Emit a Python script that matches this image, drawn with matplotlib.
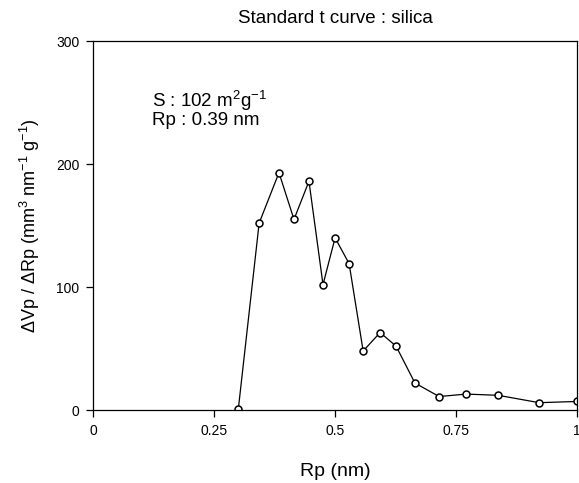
import matplotlib
matplotlib.use("Agg")
import matplotlib.pyplot as plt

plt.rcParams['font.family'] = ['Liberation Sans', 'DejaVu Sans']
plt.rcParams['mathtext.fontset'] = 'custom'
plt.rcParams['mathtext.rm'] = 'Liberation Sans'
plt.rcParams['mathtext.it'] = 'Liberation Sans:italic'
plt.rcParams['mathtext.default'] = 'regular'

# ================== DATA ==================
rp = [0.30, 0.343, 0.384, 0.415, 0.446, 0.475, 0.50, 0.529, 0.558,
      0.593, 0.626, 0.665, 0.715, 0.771, 0.837, 0.922, 1.0]
dvp = [1, 152, 193, 155, 186, 102, 140, 119, 48,
       63, 52, 22, 11, 13, 12, 6, 7]

x_ticks = [0, 0.25, 0.5, 0.75, 1]
x_tick_labels = ['0', '0.25', '0.5', '0.75', '1']
y_ticks = [0, 100, 200, 300]

fig = plt.figure(figsize=(5.79, 4.83), dpi=100)
ax = fig.add_axes([0.161, 0.151, 0.8355, 0.764])

ax.plot(rp, dvp, color='black', linewidth=0.9,
        marker='o', markersize=5, markerfacecolor='white',
        markeredgecolor='black', markeredgewidth=1.1)

ax.set_xlim(0, 1)
ax.set_ylim(0, 300)
ax.set_xticks(x_ticks)
ax.set_xticklabels(x_tick_labels)
ax.set_yticks(y_ticks)
ax.tick_params(direction='out', length=5, width=0.9, labelsize=10,
               colors='black', pad=5)
for s in ax.spines.values():
    s.set_linewidth(0.9)

ax.set_title('Standard t curve : silica', fontsize=13.5, pad=13)
ax.set_xlabel('Rp (nm)', fontsize=14, labelpad=18)
ax.set_ylabel(r'$\Delta$Vp / $\Delta$Rp (mm$^{3}$ nm$^{-1}$ g$^{-1}$)',
              fontsize=13, labelpad=10)

ax.text(0.122, 0.821, r'S : 102 m$^{2}$g$^{-1}$', transform=ax.transAxes,
        fontsize=13.5, va='baseline')
ax.text(0.122, 0.772, 'Rp : 0.39 nm', transform=ax.transAxes,
        fontsize=13.5, va='baseline')

plt.savefig('out.png', dpi=100)
plt.close()
